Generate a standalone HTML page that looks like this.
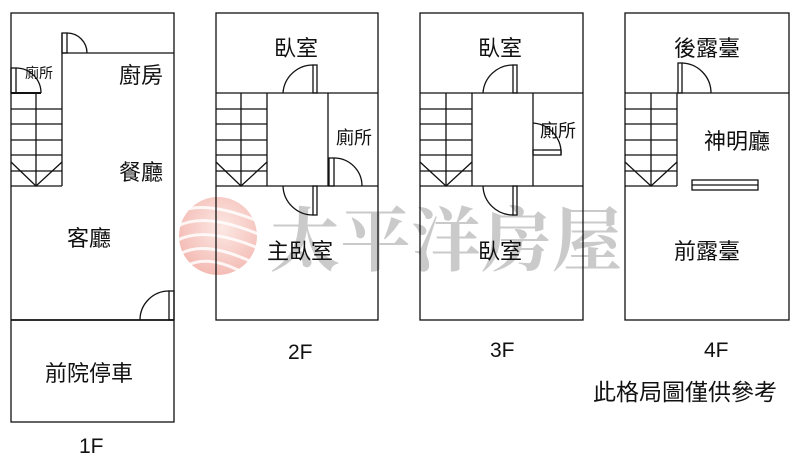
<!DOCTYPE html>
<html><head><meta charset="utf-8"><style>
html,body{margin:0;padding:0;background:#fff;}
svg{display:block;}
text{font-family:"Liberation Sans","Noto Sans CJK TC",sans-serif;fill:#111;}
</style></head><body>
<svg width="800" height="469" viewBox="0 0 800 469" xmlns="http://www.w3.org/2000/svg">
<defs>
<radialGradient id="lg" cx="0.55" cy="0.4" r="0.6">
<stop offset="0" stop-color="#fce8e4"/><stop offset="1" stop-color="#f4bcb5"/>
</radialGradient>
</defs>
<circle cx="218" cy="236" r="39" fill="url(#lg)"/>
<g fill="none" stroke="#fff" stroke-width="3" opacity="0.85">
<path d="M178 212 Q205 200 255 220"/>
<path d="M178 226 Q205 212 258 234"/>
<path d="M178 240 Q205 226 258 248"/>
<path d="M180 254 Q205 240 252 262"/>
<path d="M186 266 Q208 254 242 272"/>
</g>
<text x="270" y="265" font-size="70" style="fill:#cacaca;font-family:'Noto Serif CJK SC','Liberation Serif',serif;font-weight:bold" textLength="352">太平洋房屋</text>

<g fill="none" stroke="#111" stroke-width="1.3">
<rect x="11" y="13" width="163" height="409"/>
<line x1="62" y1="53" x2="174" y2="53"/>
<line x1="62" y1="33" x2="62" y2="186"/>
<rect x="62" y="33" width="5" height="20"/>
<path d="M67 33 A20 20 0 0 1 87 53"/>
<line x1="11" y1="93" x2="41" y2="93" stroke-width="2"/>
<rect x="11" y="68" width="5" height="25"/>
<path d="M16 68 A25 25 0 0 1 41 93"/>
<line x1="11" y1="109" x2="62" y2="109"/><line x1="11" y1="124" x2="62" y2="124"/>
<line x1="11" y1="140" x2="62" y2="140"/><line x1="11" y1="155" x2="62" y2="155"/>
<line x1="11" y1="171" x2="62" y2="171"/><line x1="11" y1="186" x2="62" y2="186"/>
<line x1="36" y1="93" x2="36" y2="186"/>
<polyline points="11,162 36,186 62,162"/>
<line x1="11" y1="320" x2="174" y2="320" stroke-width="1.8"/>
<rect x="169" y="291" width="5" height="29"/>
<path d="M169 291 A29 29 0 0 0 140 320"/>

<rect x="216" y="13" width="162" height="307"/>
<line x1="216" y1="93" x2="378" y2="93"/>
<line x1="216" y1="186" x2="378" y2="186"/>
<line x1="267" y1="93" x2="267" y2="186"/>
<line x1="328" y1="93" x2="328" y2="186"/>
<g>
<line x1="216" y1="109" x2="267" y2="109"/><line x1="216" y1="124" x2="267" y2="124"/>
<line x1="216" y1="140" x2="267" y2="140"/><line x1="216" y1="155" x2="267" y2="155"/>
<line x1="216" y1="171" x2="267" y2="171"/>
<line x1="241" y1="93" x2="241" y2="186"/>
<polyline points="216,162 241,186 267,162"/>
</g>
<rect x="313" y="65" width="4" height="28"/>
<path d="M313 65 A30 30 0 0 0 283 93"/>
<rect x="313" y="186" width="4" height="29"/>
<path d="M313 215 A30 30 0 0 1 283 186"/>
<rect x="329" y="158" width="5" height="28"/>
<path d="M334 158 A28 28 0 0 1 362 186"/>

<rect x="420" y="13" width="163" height="307"/>
<line x1="420" y1="93" x2="583" y2="93"/>
<line x1="420" y1="186" x2="583" y2="186"/>
<line x1="472" y1="93" x2="472" y2="186"/>
<line x1="533" y1="93" x2="533" y2="186"/>
<g>
<line x1="420" y1="109" x2="472" y2="109"/><line x1="420" y1="124" x2="472" y2="124"/>
<line x1="420" y1="140" x2="472" y2="140"/><line x1="420" y1="155" x2="472" y2="155"/>
<line x1="420" y1="171" x2="472" y2="171"/>
<line x1="446" y1="93" x2="446" y2="186"/>
<polyline points="420,162 446,186 472,162"/>
</g>
<rect x="513" y="65" width="4" height="28"/>
<path d="M513 65 A30 30 0 0 0 483 93"/>
<rect x="513" y="186" width="4" height="29"/>
<path d="M513 215 A30 30 0 0 1 483 186"/>
<rect x="533" y="150" width="28" height="5"/>
<path d="M533 123 A30 30 0 0 1 561 155"/>

<rect x="625" y="13" width="164" height="307"/>
<line x1="625" y1="93" x2="789" y2="93"/>
<line x1="677" y1="93" x2="677" y2="186"/>
<line x1="625" y1="186" x2="677" y2="186"/>
<g>
<line x1="625" y1="109" x2="677" y2="109"/><line x1="625" y1="124" x2="677" y2="124"/>
<line x1="625" y1="140" x2="677" y2="140"/><line x1="625" y1="155" x2="677" y2="155"/>
<line x1="625" y1="171" x2="677" y2="171"/>
<line x1="651" y1="93" x2="651" y2="186"/>
<polyline points="625,162 651,186 677,162"/>
</g>
<rect x="678" y="63" width="4" height="30"/>
<path d="M682 63 A30 30 0 0 1 711 93"/>
<rect x="692" y="180" width="66" height="10"/>
<line x1="692" y1="185" x2="758" y2="185"/>
</g>

<g font-size="22">
<text x="119" y="83">廚房</text>
<text x="119" y="180">餐廳</text>
<text x="67" y="246">客廳</text>
<text x="45" y="381">前院停車</text>
<text x="79" y="453" font-size="21">1F</text>
<text x="274" y="56">臥室</text>
<text x="267" y="259">主臥室</text>
<text x="288" y="359" font-size="21">2F</text>
<text x="478" y="56">臥室</text>
<text x="478" y="259">臥室</text>
<text x="490" y="357" font-size="21">3F</text>
<text x="674" y="56">後露臺</text>
<text x="704" y="149">神明廳</text>
<text x="674" y="259">前露臺</text>
<text x="704" y="357" font-size="21">4F</text>
<text x="593" y="400" font-size="23">此格局圖僅供參考</text>
</g>
<text x="25" y="78" font-size="14">廁所</text>
<text x="336" y="144" font-size="18">廁所</text>
<text x="540" y="137" font-size="18">廁所</text>
</svg>
</body></html>
